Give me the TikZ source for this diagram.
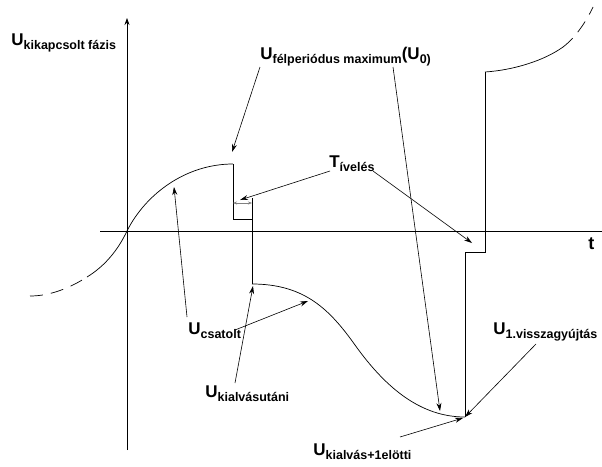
\documentclass[tikz,border=0pt]{standalone}
\usepackage{fontspec}
\setmainfont{Liberation Sans}
\usetikzlibrary{arrows.meta}
% big letter with lowered smaller index
\newcommand{\ulab}[2]{{\fontsize{17}{17}\selectfont #1}\raisebox{-4pt}{\fontsize{12.5}{12.5}\selectfont #2}}

\begin{document}
\begin{tikzpicture}[x=1pt,y=-1pt,line width=0.7pt,
  lbl/.style={font=\bfseries,anchor=base west,inner sep=0pt},
  ptr/.style={-{Stealth[length=8pt,width=5pt]},line width=0.6pt}]
  \useasboundingbox (0,0) rectangle (602,466);
  % pixel grid of the sketch, y grows downwards
  \def\xO{127}\def\yO{231}
  \def\xA{233}\def\xB{252}\def\xC{465}\def\xD{485}
  % axes
  \draw[-{Stealth[length=7pt,width=5pt]}] (\xO,450) -- (\xO,18);
  \draw (100,\yO) -- (602,\yO);
  \node[font=\bfseries\fontsize{18}{18}\selectfont,anchor=base west,inner sep=0pt] (t) at (588,249) {t};

  % coupled voltage before opening
  \draw[dash pattern=on 13pt off 8pt] (30,296) .. controls (50,296) and (70,288) .. (87,277);
  \draw (87,277) .. controls (105,266) and (118,250) .. (\xO,\yO)
        .. controls (145,195) and (185,164) .. (\xA,164);
  % arcing step
  \draw (\xA,164) -- (\xA,219) -- (\xB,219);
  \draw (\xB,198) -- (\xB,284);
  \coordinate (tL) at (\xA,203); \coordinate (tR) at (\xB,203);
  \draw[gray,{Stealth[length=4pt,width=3pt]}-{Stealth[length=4pt,width=3pt]},line width=0.5pt] (tL) -- (tR);
  % after extinction
  \draw (\xB,284) .. controls (305,284) and (330,310) .. (355,345)
        .. controls (385,387) and (420,417) .. (\xC,417);
  % restrike
  \draw (\xC,417) -- (\xC,252) -- (\xD,252) -- (\xD,72);
  \draw (\xD,72) .. controls (515,70) and (545,60) .. (563,47);
  \draw[dash pattern=on 13pt off 8pt] (563,47) .. controls (575,38) and (586,22) .. (593,7);

  % labels
  \node[lbl] (ukik) at (11,45) {\ulab{U}{kikapcsolt fázis}};
  \node[lbl] (ufel) at (260,59) {\ulab{U}{félperiódus maximum}\ulab{(U}{0)}};
  \node[lbl] (tiv) at (329,167) {\ulab{T}{ívelés}};
  \node[lbl] (ucsat) at (188,334) {\ulab{U}{csatolt}};
  \node[lbl] (ukiu) at (205,397) {\ulab{U}{kialvásutáni}};
  \node[lbl] (uvissz) at (493,334) {\ulab{U}{1.visszagyújtás}};
  \node[lbl] (ukie) at (313,455) {\ulab{U}{kialvás+1elötti}};

  % leader ends
  \coordinate (fA) at (260,67);  \coordinate (pPeak) at (232,152);
  \coordinate (fB) at (393,67);  \coordinate (pMin) at (440,411);
  \coordinate (tA) at (330,171); \coordinate (pArc) at (240,200);
  \coordinate (tB) at (373,171); \coordinate (pArc2) at (472,243);
  \coordinate (cA) at (187,317); \coordinate (pUp) at (174,187);
  \coordinate (cB) at (235,330); \coordinate (pDown) at (308,301);
  \coordinate (kA) at (235,383); \coordinate (pExt) at (253,286);
  \coordinate (vA) at (536,344); \coordinate (pRe) at (465,417);
  \coordinate (eA) at (400,437); \coordinate (pRe2) at (463,418);
  % leaders
  \draw[ptr] (fA) -- (pPeak);
  \draw[ptr] (fB) -- (pMin);
  \draw[ptr] (tA) -- (pArc);
  \draw[ptr] (tB) -- (pArc2);
  \draw[ptr] (cA) -- (pUp);
  \draw[ptr] (cB) -- (pDown);
  \draw[ptr] (kA) -- (pExt);
  \draw[ptr] (vA) -- (pRe);
  \draw[ptr] (eA) -- (pRe2);
\end{tikzpicture}
\end{document}
